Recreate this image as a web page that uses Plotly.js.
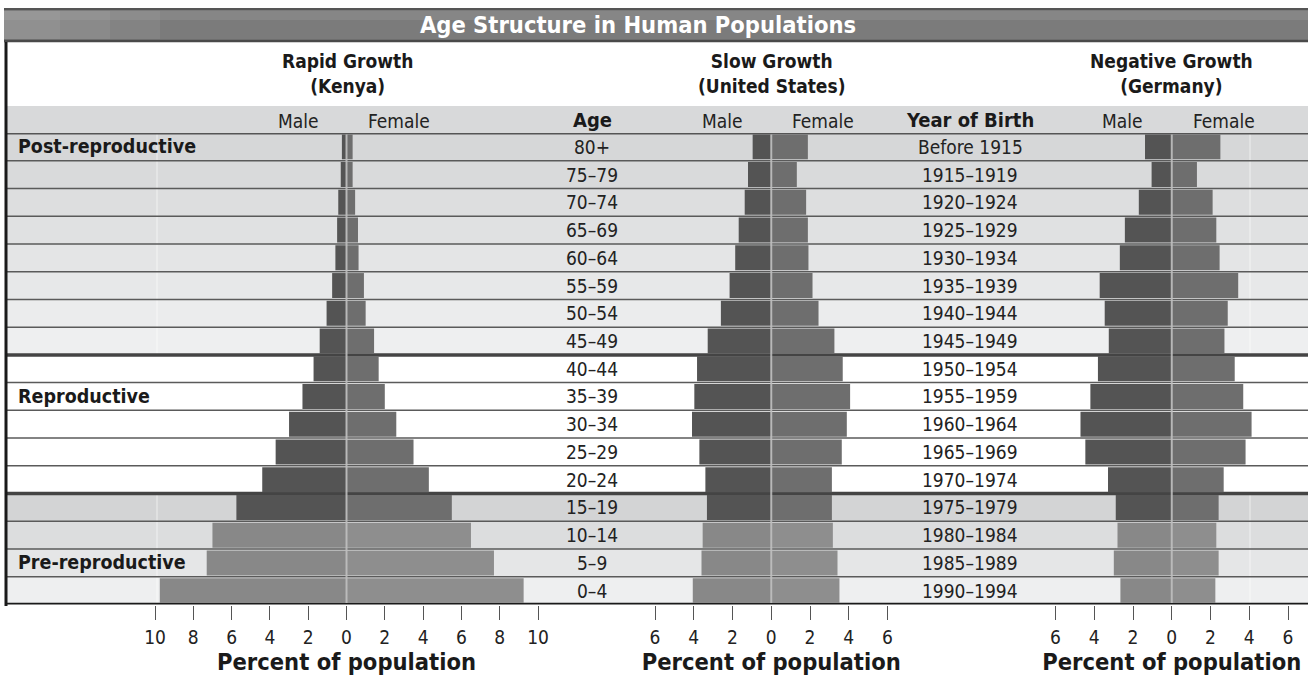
<!DOCTYPE html>
<html>
<head>
<meta charset="utf-8">
<script src="https://cdn.plot.ly/plotly-3.0.1.min.js"></script>
<style>html,body{margin:0;padding:0;background:#fff;}#chart{width:1308px;height:678px;}</style>
</head>
<body>
<div id="chart"></div>
<script>
// ---- data (top row first, as in the picture) ----
const ageGroups = ['80+','75–79','70–74','65–69','60–64','55–59','50–54','45–49','40–44','35–39','30–34','25–29','20–24','15–19','10–14','5–9','0–4'];
const birthYears = ['Before 1915','1915–1919','1920–1924','1925–1929','1930–1934','1935–1939','1940–1944','1945–1949','1950–1954','1955–1959','1960–1964','1965–1969','1970–1974','1975–1979','1980–1984','1985–1989','1990–1994'];
const kenyaMale   = [0.24,0.30,0.43,0.49,0.58,0.75,1.04,1.40,1.72,2.30,3.00,3.70,4.40,5.75,7.00,7.30,9.75];
const kenyaFemale = [0.32,0.32,0.45,0.60,0.63,0.91,1.00,1.44,1.68,2.00,2.60,3.50,4.30,5.50,6.50,7.70,9.25];
const usMale      = [0.96,1.20,1.37,1.68,1.86,2.15,2.60,3.28,3.83,3.97,4.09,3.71,3.40,3.32,3.54,3.60,4.05];
const usFemale    = [1.89,1.32,1.80,1.89,1.92,2.13,2.44,3.26,3.69,4.07,3.90,3.64,3.13,3.13,3.18,3.42,3.52];
const germanyMale   = [1.38,1.04,1.70,2.42,2.68,3.72,3.46,3.25,3.81,4.20,4.71,4.46,3.29,2.89,2.80,2.99,2.65];
const germanyFemale = [2.51,1.30,2.11,2.30,2.47,3.43,2.89,2.72,3.25,3.69,4.12,3.81,2.68,2.42,2.30,2.42,2.25];
const kenyaTicks = [-10,-8,-6,-4,-2,0,2,4,6,8,10];
const kenyaTickText = ['10','8','6','4','2','0','2','4','6','8','10'];
const smallTicks = [-6,-4,-2,0,2,4,6];
const smallTickText = ['6','4','2','0','2','4','6'];
const panelTitles = ['Rapid Growth<br>(Kenya)','Slow Growth<br>(United States)','Negative Growth<br>(Germany)'];
const sections = [['Post-reproductive','80+'],['Reproductive','35–39'],['Pre-reproductive','5–9']];

// ---- layout helpers ----
const W = 1308, H = 678;
const px = x => x / W;
const py = y => 1 - y / H;
const FONT = 'DejaVu Sans Condensed, Liberation Sans Narrow, sans-serif';
const n = ageGroups.length;
const isLight = i => i >= n - 3;
const maleColors = ageGroups.map((a,i) => isLight(i) ? '#888888' : '#545454');
const femaleColors = ageGroups.map((a,i) => isLight(i) ? '#8e8e8e' : '#6e6e6e');

function pair(male, female, xa) {
  return [
    {type:'bar', orientation:'h', y: ageGroups, x: male.map(v => -v), xaxis: xa, yaxis:'y',
     marker:{color: maleColors, line:{width:0}}, hoverinfo:'skip', showlegend:false},
    {type:'bar', orientation:'h', y: ageGroups, x: female, xaxis: xa, yaxis:'y',
     marker:{color: femaleColors, line:{width:0}}, hoverinfo:'skip', showlegend:false}
  ];
}
const data = [].concat(pair(kenyaMale,kenyaFemale,'x'), pair(usMale,usFemale,'x2'), pair(germanyMale,germanyFemale,'x3'));

// ---- shapes ----
const shapes = [];
// title bar
shapes.push({type:'rect', xref:'paper', yref:'paper', x0:px(4), x1:1, y0:py(42), y1:py(8), fillcolor:'#7b7b7b', line:{width:0}, layer:'below'});
shapes.push({type:'rect', xref:'paper', yref:'paper', x0:px(4), x1:1, y0:py(20), y1:py(11), fillcolor:'#868686', line:{width:0}, layer:'below'});
[[4,160,0.12],[4,110,0.12],[4,60,0.12]].forEach(([a,b,o]) => shapes.push({type:'rect', xref:'paper', yref:'paper', x0:px(a), x1:px(b), y0:py(39), y1:py(11), fillcolor:`rgba(190,190,190,${o})`, line:{width:0}, layer:'below'}));
shapes.push({type:'line', xref:'paper', yref:'paper', x0:px(4), x1:1, y0:py(9), y1:py(9), line:{color:'#555', width:2}, layer:'below'});
shapes.push({type:'line', xref:'paper', yref:'paper', x0:px(4), x1:1, y0:py(41), y1:py(41), line:{color:'#4a4a4a', width:2.5}, layer:'below'});
// column header band
shapes.push({type:'rect', xref:'paper', yref:'paper', x0:px(6), x1:1, y0:py(133), y1:py(106), fillcolor:'#d8d9da', line:{width:0}, layer:'below'});
// row backgrounds (gray sections are shaded from darker to lighter)
for (let i = 0; i < n; i++) {
  let c = null;
  if (i <= 7) { const t = i / 7; const v = Math.round(214 + t * 24); c = `rgb(${v},${v+1},${v+2})`; }
  else if (i >= 13) { const t = (i - 13) / 3; const v = Math.round(211 + t * 27); c = `rgb(${v},${v+1},${v+2})`; }
  if (c) shapes.push({type:'rect', xref:'paper', yref:'y', x0:px(6), x1:1, y0:i-0.5, y1:i+0.5, fillcolor:c, line:{width:0}, layer:'below'});
}
// faint column separators inside shaded sections
[[ -0.5, 7.5 ], [12.5, 16.5]].forEach(([a,b]) => {
  [157, 1250].forEach(xp => shapes.push({type:'line', xref:'paper', yref:'y', x0:px(xp), x1:px(xp), y0:a, y1:b, line:{color:'rgba(255,255,255,0.6)', width:1}, layer:'below'}));
});
// row lines
for (let k = 0; k <= n; k++) {
  const yv = k - 0.5;
  let col = '#5a5a5a', w = 1.5;
  if (k === 0) { col = '#555'; w = 3; }
  if (k === 8 || k === 13) { col = '#444'; w = 3.5; }
  if (k === n) { col = '#1a1a1a'; w = 3.5; }
  shapes.push({type:'line', xref:'paper', yref:'y', x0:px(5), x1:1, y0:yv, y1:yv, line:{color:col, width:w}, layer:'below'});
}
// left frame line
shapes.push({type:'line', xref:'paper', yref:'paper', x0:px(6), x1:px(6), y0:py(606), y1:py(42), line:{color:'#1a1a1a', width:3}});
// light centre dividers in each pyramid
['x','x2','x3'].forEach(xa => shapes.push({type:'line', xref:xa, yref:'y', x0:0, x1:0, y0:-0.45, y1:n-0.55, line:{color:'rgba(190,190,190,0.9)', width:2}, layer:'above'}));

// ---- annotations ----
const ann = [];
const centers = [347, 771, 1171.5];
panelTitles.forEach((t,i) => ann.push({xref:'paper', yref:'paper', x:px(centers[i]), y:py(74), text:'<b>'+t+'</b>', showarrow:false, font:{family:FONT, size:19, color:'#1a1a1a'}, xanchor:'center', yanchor:'middle'}));
centers.forEach(c => {
  ann.push({xref:'paper', yref:'paper', x:px(c-49), y:py(121), text:'Male', showarrow:false, font:{family:FONT, size:19, color:'#222'}, xanchor:'center', yanchor:'middle'});
  ann.push({xref:'paper', yref:'paper', x:px(c+52), y:py(121), text:'Female', showarrow:false, font:{family:FONT, size:19, color:'#222'}, xanchor:'center', yanchor:'middle'});
});
ann.push({xref:'paper', yref:'paper', x:px(592), y:py(120), text:'<b>Age</b>', showarrow:false, font:{family:FONT, size:20, color:'#1a1a1a'}, xanchor:'center', yanchor:'middle'});
ann.push({xref:'paper', yref:'paper', x:px(970), y:py(120), text:'<b>Year of Birth</b>', showarrow:false, font:{family:FONT, size:20, color:'#1a1a1a'}, xanchor:'center', yanchor:'middle'});
ageGroups.forEach((a,i) => ann.push({xref:'paper', yref:'y', x:px(592), y:i, text:a, showarrow:false, font:{family:FONT, size:19, color:'#222'}, xanchor:'center', yanchor:'middle'}));
birthYears.forEach((b,i) => ann.push({xref:'paper', yref:'y', x:px(970), y:i, text:b, showarrow:false, font:{family:FONT, size:19, color:'#222'}, xanchor:'center', yanchor:'middle'}));
sections.forEach(([label, row]) => ann.push({xref:'paper', yref:'y', x:px(16), y:ageGroups.indexOf(row), text:'<b>'+label+'</b>', showarrow:false, font:{family:FONT, size:19.5, color:'#1a1a1a'}, xanchor:'left', yanchor:'middle'}));

function xaxisDef(d0, d1, r, tv, tt) {
  return {domain:[px(d0), px(d1)], range:r, anchor:'y', fixedrange:true,
    showgrid:false, zeroline:false, showline:false,
    ticks:'outside', ticklen:14, tickwidth:1, tickcolor:'#555',
    tickvals:tv, ticktext:tt, tickfont:{family:FONT, size:19, color:'#222'}, ticklabelstandoff:2,
    title:{text:'<b>Percent of population</b>', font:{family:FONT, size:23.5, color:'#1a1a1a'}, standoff:2}};
}

const layout = {
  width:W, height:H, margin:{l:0, r:0, t:0, b:0}, autosize:false,
  paper_bgcolor:'#ffffff', plot_bgcolor:'rgba(0,0,0,0)',
  barmode:'relative', bargap:0.1,
  title:{text:'<b>Age Structure in Human Populations</b>', x:px(638), xanchor:'center', y:py(25), yanchor:'middle', yref:'container', font:{family:FONT, size:23.5, color:'#ffffff'}},
  xaxis: xaxisDef(155, 538, [-10,10], kenyaTicks, kenyaTickText),
  xaxis2: xaxisDef(655, 887.5, [-6,6], smallTicks, smallTickText),
  xaxis3: xaxisDef(1055.5, 1288, [-6,6], smallTicks, smallTickText),
  yaxis: {domain:[py(604.5), py(133)], type:'category', categoryarray:ageGroups, categoryorder:'array', range:[n-0.5,-0.5],
    showticklabels:false, showgrid:false, zeroline:false, showline:false, ticks:'', fixedrange:true},
  shapes: shapes, annotations: ann, showlegend:false
};

Plotly.newPlot('chart', data, layout, {displayModeBar:false, staticPlot:true});
</script>
</body>
</html>
